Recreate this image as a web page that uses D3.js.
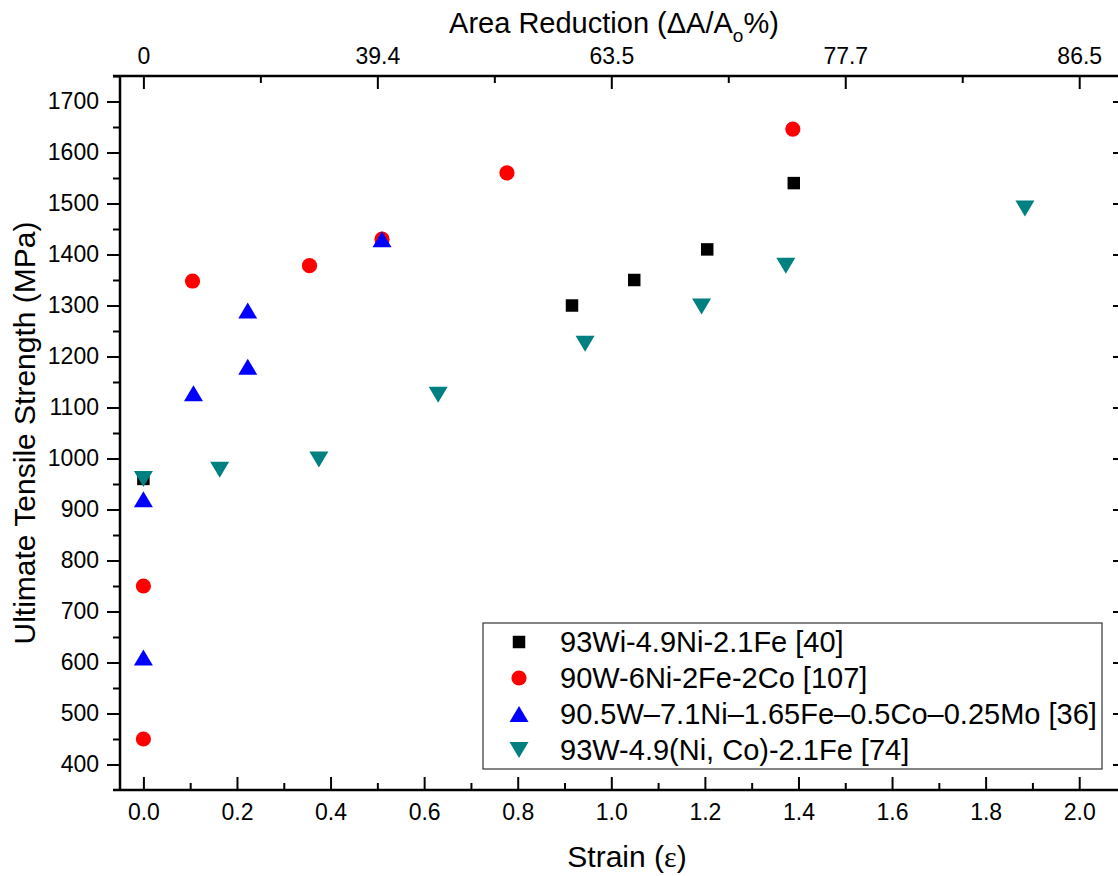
<!DOCTYPE html>
<html>
<head>
<meta charset="utf-8">
<script src="https://cdn.jsdelivr.net/npm/d3@7"></script>
<style>
  body { margin: 0; background: #fff; }
  svg text { font-family: Arial, "Liberation Sans", sans-serif; fill: #000; }
</style>
</head>
<body>
<div id="chart"></div>
<script>
// series: strain (ε) and ultimate tensile strength (MPa)
const seriesNames = [
    "93Wi-4.9Ni-2.1Fe [40]",
    "90W-6Ni-2Fe-2Co [107]",
    "90.5W\u20137.1Ni\u20131.65Fe\u20130.5Co\u20130.25Mo [36]",
    "93W-4.9(Ni, Co)-2.1Fe [74]"
];
const squareStrain = [0, 0.916, 1.049, 1.205, 1.39];
const squareUTS = [960, 1300, 1350, 1410, 1540];
const circleStrain = [0, 0, 0.105, 0.355, 0.51, 0.777, 1.388];
const circleUTS = [750, 450, 1348, 1378, 1430, 1560, 1646];
const upStrain = [0, 0, 0.107, 0.223, 0.223, 0.51];
const upUTS = [920, 610, 1128, 1290, 1180, 1430];
const downStrain = [0, 0.163, 0.375, 0.63, 0.944, 1.193, 1.373, 1.884];
const downUTS = [960, 978, 998, 1125, 1225, 1298, 1378, 1490];

const topTickStrain = [0, 0.5, 1.0, 1.5, 2.0];
const topTickLabels = ["0", "39.4", "63.5", "77.7", "86.5"];

const width = 1118, height = 876;
const margin = { left: 120, top: 76, right: -8, bottom: 86 };
const tickFont = 23, titleFont = 30, legendFont = 29;

const svg = d3.select("#chart").append("svg")
    .attr("width", width)
    .attr("height", height);

const x = d3.scaleLinear().domain([-0.05, 2.1]).range([margin.left, width - margin.right]);
const y = d3.scaleLinear().domain([350, 1750]).range([height - margin.bottom, margin.top]);

const x0 = x.range()[0], x1 = x.range()[1];
const y0 = y.range()[0], y1 = y.range()[1];

// left axis, ticks outward
const yMajor = d3.range(400, 1701, 100);
const yMinor = d3.range(450, 1751, 100);
svg.append("g")
    .attr("transform", `translate(${x0},0)`)
    .call(d3.axisLeft(y).tickValues(yMajor).tickSize(13).tickPadding(8).tickFormat(d3.format("d")))
    .call(g => g.select(".domain").remove())
    .call(g => g.selectAll("line").attr("stroke-width", 2))
    .call(g => g.selectAll("text").attr("font-size", tickFont));
svg.append("g")
    .attr("transform", `translate(${x0},0)`)
    .call(d3.axisLeft(y).tickValues(yMinor).tickSize(7).tickFormat(""))
    .call(g => g.select(".domain").remove())
    .call(g => g.selectAll("line").attr("stroke-width", 2));

// right axis, ticks inward (mostly cut off by the window)
svg.append("g")
    .attr("transform", `translate(${x1},0)`)
    .call(d3.axisLeft(y).tickValues(yMajor).tickSize(-13).tickFormat(""))
    .call(g => g.select(".domain").remove())
    .call(g => g.selectAll("line").attr("stroke-width", 2).attr("x2", -13));

// bottom axis, ticks inward
const xMajor = d3.range(0, 2.01, 0.2);
const xMinor = d3.range(0.1, 2.01, 0.2);
svg.append("g")
    .attr("transform", `translate(0,${y0})`)
    .call(d3.axisBottom(x).tickValues(xMajor).tickSize(-13).tickPadding(14).tickFormat(d3.format(".1f")))
    .call(g => g.select(".domain").remove())
    .call(g => g.selectAll("line").attr("stroke-width", 2))
    .call(g => g.selectAll("text").attr("font-size", tickFont));
svg.append("g")
    .attr("transform", `translate(0,${y0})`)
    .call(d3.axisBottom(x).tickValues(xMinor).tickSize(-7).tickFormat(""))
    .call(g => g.select(".domain").remove())
    .call(g => g.selectAll("line").attr("stroke-width", 2));

// top axis: area reduction, ticks inward
svg.append("g")
    .attr("transform", `translate(0,${y1})`)
    .call(d3.axisTop(x).tickValues(topTickStrain).tickSize(-13).tickPadding(12)
        .tickFormat((d, i) => topTickLabels[i]))
    .call(g => g.select(".domain").remove())
    .call(g => g.selectAll("line").attr("stroke-width", 2))
    .call(g => g.selectAll("text").attr("font-size", tickFont));
svg.append("g")
    .attr("transform", `translate(0,${y1})`)
    .call(d3.axisTop(x).tickValues([0.25, 0.75, 1.25, 1.75]).tickSize(-7).tickFormat(""))
    .call(g => g.select(".domain").remove())
    .call(g => g.selectAll("line").attr("stroke-width", 2));

// axis lines
svg.append("line").attr("x1", x0).attr("x2", x0).attr("y1", y1 - 1).attr("y2", y0 + 1)
    .attr("stroke", "#000").attr("stroke-width", 2.5);
svg.append("line").attr("x1", x0 - 7).attr("x2", x1 + 7).attr("y1", y0).attr("y2", y0)
    .attr("stroke", "#000").attr("stroke-width", 2.5);
svg.append("line").attr("x1", x0 - 7).attr("x2", x1 + 7).attr("y1", y1).attr("y2", y1)
    .attr("stroke", "#000").attr("stroke-width", 2.5);

// axis titles
svg.append("text")
    .attr("x", 614).attr("y", 33)
    .attr("text-anchor", "middle").attr("font-size", titleFont - 1)
    .call(t => {
        t.append("tspan").text("Area Reduction (\u0394A/A");
        t.append("tspan").attr("font-size", 19).attr("dy", 9).text("o");
        t.append("tspan").attr("dy", -9).text("%)");
    });

svg.append("text")
    .attr("x", 627).attr("y", 867)
    .attr("text-anchor", "middle").attr("font-size", titleFont)
    .call(t => {
        t.append("tspan").text("Strain (");
        t.append("tspan").attr("font-family", "'Liberation Serif', serif").text("\u03b5");
        t.append("tspan").text(")");
    });

svg.append("text")
    .attr("transform", `translate(35,${(y0 + y1) / 2}) rotate(-90)`)
    .attr("text-anchor", "middle").attr("font-size", titleFont)
    .text("Ultimate Tensile Strength (MPa)");

// markers
const squareSym = d3.symbol().type(d3.symbolSquare).size(156);
const triW = 19, triH = 16;
const triPath = `M0,${-triH / 2}L${triW / 2},${triH / 2}L${-triW / 2},${triH / 2}Z`;

const plot = svg.append("g");
plot.selectAll(".sq")
    .data(d3.zip(squareStrain, squareUTS))
    .enter().append("path")
    .attr("class", "sq")
    .attr("d", squareSym())
    .attr("fill", "#000")
    .attr("transform", d => `translate(${x(d[0])},${y(d[1])})`);

plot.selectAll(".ci")
    .data(d3.zip(circleStrain, circleUTS))
    .enter().append("circle")
    .attr("class", "ci")
    .attr("r", 7.6)
    .attr("fill", "#ff0000")
    .attr("cx", d => x(d[0]))
    .attr("cy", d => y(d[1]));

plot.selectAll(".up")
    .data(d3.zip(upStrain, upUTS))
    .enter().append("path")
    .attr("class", "up")
    .attr("d", triPath)
    .attr("fill", "#0000ff")
    .attr("transform", d => `translate(${x(d[0])},${y(d[1])})`);

plot.selectAll(".dn")
    .data(d3.zip(downStrain, downUTS))
    .enter().append("path")
    .attr("class", "dn")
    .attr("d", triPath)
    .attr("fill", "#008080")
    .attr("transform", d => `translate(${x(d[0])},${y(d[1])}) rotate(180)`);

// legend
const legend = svg.append("g").attr("transform", "translate(483,623)");
legend.append("rect")
    .attr("width", 619).attr("height", 146)
    .attr("fill", "#fff").attr("stroke", "#333").attr("stroke-width", 1.2);

const legendMarks = [
    g => g.append("path").attr("d", squareSym()).attr("fill", "#000"),
    g => g.append("circle").attr("r", 7.6).attr("fill", "#ff0000"),
    g => g.append("path").attr("d", triPath).attr("fill", "#0000ff"),
    g => g.append("path").attr("d", triPath).attr("fill", "#008080").attr("transform", "rotate(180)")
];
seriesNames.forEach((name, i) => {
    const row = legend.append("g").attr("transform", `translate(0,${19 + i * 36})`);
    legendMarks[i](row.append("g").attr("transform", "translate(36,0)"));
    row.append("text")
        .attr("x", 77).attr("dy", "0.35em")
        .attr("font-size", legendFont)
        .text(name);
});
</script>
</body>
</html>
